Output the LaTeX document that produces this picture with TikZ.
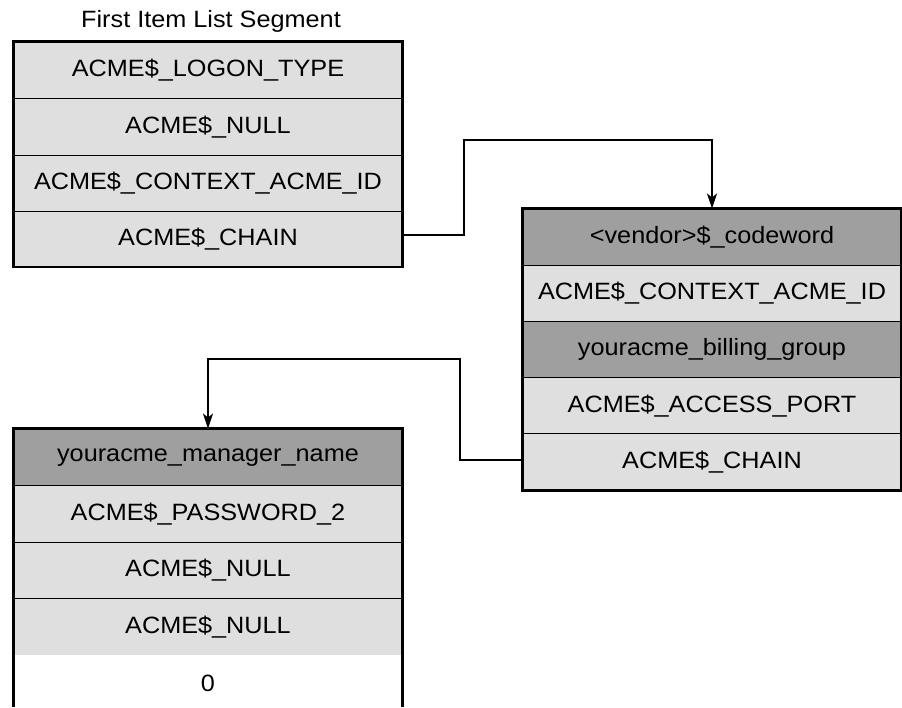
\documentclass[tikz,border=0pt]{standalone}
\usepackage{fontspec}
\setmainfont{Liberation Sans}[FakeStretch=1.07]
\usetikzlibrary{arrows.meta}
\definecolor{lightrow}{HTML}{DFDFDF}
\definecolor{darkrow}{HTML}{9F9F9F}
\begin{document}
\begin{tikzpicture}[x=1pt,y=-1pt,
  cell/.style={draw=black, line width=1pt, inner sep=0pt, anchor=center,
    font=\fontsize{23.6}{28}\selectfont},
  lrow/.style={cell, fill=lightrow},
  drow/.style={cell, fill=darkrow},
  wrow/.style={inner sep=0pt, anchor=center, fill=white,
    font=\fontsize{23.6}{28}\selectfont},
  outer/.style={draw=black, line width=2.3pt},
  conn/.style={draw=black, line width=1.2pt, -{Stealth[length=15pt,width=10pt,inset=4pt]}},
  ttl/.style={font=\fontsize{23.6}{28}\selectfont, inner sep=0pt}]
\useasboundingbox (0,0) rectangle (902,707);
% title
\node[ttl] (title) at (211,21) {First Item List Segment};
% first box
\begin{scope}[every node/.append style={minimum width=388pt}]
\node[lrow, minimum height=56.5pt] (t1) at (208,70.25) {ACME\$\_LOGON\_TYPE};
\node[lrow, minimum height=56.5pt] (t2) at (208,126.75) {ACME\$\_NULL};
\node[lrow, minimum height=56.5pt] (t3) at (208,183.25) {ACME\$\_CONTEXT\_ACME\_ID};
\node[lrow, minimum height=55pt] (t4) at (208,239) {ACME\$\_CHAIN};
\end{scope}
\draw[outer] (t1.north west) rectangle (t4.south east);
% right box
\begin{scope}[every node/.append style={minimum width=378pt, minimum height=56.2pt}]
\node[drow] (r1) at (712,237.1) {<vendor>\$\_codeword};
\node[lrow] (r2) at (712,293.3) {ACME\$\_CONTEXT\_ACME\_ID};
\node[drow] (r3) at (712,349.5) {youracme\_billing\_group};
\node[lrow] (r4) at (712,405.7) {ACME\$\_ACCESS\_PORT};
\node[lrow] (r5) at (712,461.9) {ACME\$\_CHAIN};
\end{scope}
\draw[outer] (r1.north west) rectangle (r5.south east);
% bottom box
\begin{scope}[every node/.append style={minimum width=388pt, minimum height=56.5pt}]
\node[drow] (b1) at (208,457.25) {youracme\_manager\_name};
\node[lrow] (b2) at (208,513.75) {ACME\$\_PASSWORD\_2};
\node[lrow] (b3) at (208,570.25) {ACME\$\_NULL};
\node[lrow] (b4) at (208,626.75) {ACME\$\_NULL};
\node[wrow] (b5) at (208,683.25) {0};
\end{scope}
\draw[outer] (b1.west |- 0,707) -- (b1.north west) -- (b1.north east) -- (b1.east |- 0,707);
% connectors
\draw[conn] ([yshift=4pt]t4.east) -| (464,140) -| (r1.north);
\draw[conn] ([yshift=2pt]r5.west) -| (460,359) -| (b1.north);
\end{tikzpicture}
\end{document}
